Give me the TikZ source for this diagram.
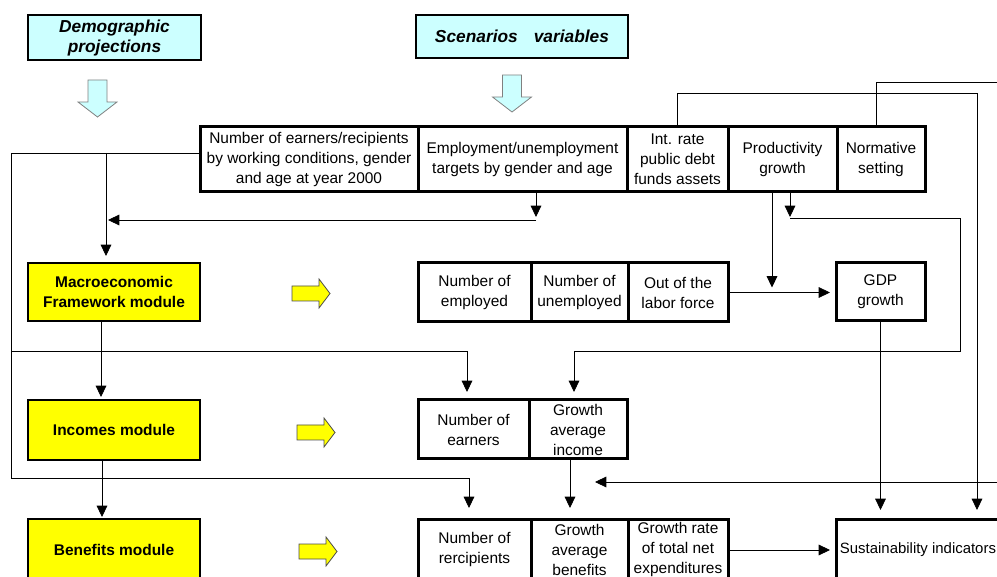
\documentclass[tikz,border=0pt]{standalone}
\usepackage{fontspec}
\setmainfont{Liberation Sans}
\usetikzlibrary{arrows.meta, positioning, calc}
\definecolor{proj-cyan}{RGB}{204,255,255}
\definecolor{module-yellow}{RGB}{255,255,0}

\begin{document}
\begin{tikzpicture}[
    x=0.75pt, y=-0.75pt,
    header/.style={rectangle, draw=black, line width=1.2pt, fill=proj-cyan, minimum height=32.25pt, align=center, font=\fontsize{13}{15}\selectfont\bfseries\itshape, anchor=north west, outer sep=0pt},
    module/.style={rectangle, draw=black, line width=1.2pt, fill=module-yellow, minimum width=129pt, align=center, font=\fontsize{11.6}{15}\selectfont\bfseries, anchor=north west, outer sep=0pt},
    cell/.style={rectangle, draw=black, line width=2.25pt, inner sep=1pt, outer sep=0pt, align=center, font=\fontsize{11.6}{15}\selectfont},
    toprow/.style={cell, minimum height=48.75pt},
    midrow/.style={cell, minimum height=44.25pt},
    botrow/.style={cell, minimum height=46.5pt},
    link/.style={draw=black, line width=0.6pt},
    arrow/.style={link, -{Triangle[length=8.5pt, width=8pt]}},
    downhollow/.pic={\draw[draw=gray, fill=proj-cyan, line width=0.6pt] (-9.5,0) -- (9.5,0) -- (9.5,22) -- (19.5,22) -- (0,37) -- (-19.5,22) -- (-9.5,22) -- cycle;},
    rightsolid/.pic={\draw[draw=black!70, fill=module-yellow, line width=0.6pt] (0,-7.5) -- (27,-7.5) -- (27,-14.5) -- (38,0) -- (27,14.5) -- (27,7.5) -- (0,7.5) -- cycle;}
]
\useasboundingbox (0,0) rectangle (997,577);
\clip (0,0) rectangle (997,577);

% Inputs
\node[header, minimum width=129.75pt] (demo) at (28,15) {Demographic\\projections};
\node[header, minimum width=159pt] (scen) at (416,15) {Scenarios\hspace{12pt}variables};
\pic at (97.5,80) {downhollow};
\pic at (512,75) {downhollow};

% Top row
\node[toprow, minimum width=163.5pt, anchor=north west] (earn) at (200,127) {Number of earners/recipients\\by working conditions, gender\\and age at year 2000};
\node[toprow, minimum width=156.75pt, right=0pt of earn] (emp) {Employment/unemployment\\targets by gender and age};
\node[toprow, minimum width=75.75pt, right=0pt of emp] (intr) {Int. rate\\public debt\\funds assets};
\node[toprow, minimum width=81.75pt, right=0pt of intr] (prod) {Productivity\\growth};
\node[toprow, minimum width=66pt, right=0pt of prod] (norm) {Normative\\setting};

% Macroeconomic module
\node[module, minimum height=43.5pt] (macro) at (28,263) {Macroeconomic\\Framework module};
\pic at (292,293.5) {rightsolid};
\node[midrow, minimum width=84.75pt, anchor=north west] (nemp) at (418,263) {Number of\\employed};
\node[midrow, minimum width=72.75pt, right=0pt of nemp] (nunemp) {Number of\\unemployed};
\node[midrow, minimum width=75pt, right=0pt of nunemp] (outlf) {Out of the\\labor force};
\node[midrow, minimum width=66.75pt, minimum height=43.5pt, anchor=north west] (gdp) at (836,263) {GDP\\growth};

% Incomes module
\node[module, minimum height=45pt] (incomes) at (28,400) {Incomes module};
\pic at (297,432.5) {rightsolid};
\node[midrow, minimum width=83.25pt, anchor=north west] (nearn) at (418,400) {Number of\\earners};
\node[midrow, minimum width=73.5pt, right=0pt of nearn] (gavinc) {Growth\\average\\income};

% Benefits module
\node[module, minimum height=46.5pt] (benefits) at (28,519) {Benefits module};
\pic at (299,551.5) {rightsolid};
\node[botrow, minimum width=84.75pt, anchor=north west] (nrec) at (418,519) {Number of\\rercipients};
\node[botrow, minimum width=72.75pt, right=0pt of nrec] (gavben) {Growth\\average\\benefits};
\node[botrow, minimum width=75pt, right=0pt of gavben] (grate) {Growth rate\\of total net\\expenditures};
\node[botrow, minimum width=123pt, font=\fontsize{11.2}{15}\selectfont, anchor=north west] (sust) at (836,519) {Sustainability indicators};

% Starting figures
\coordinate (spine) at (11,153);
\coordinate (mtap) at (106,153);
\coordinate (businc) at (11,351);
\coordinate (busben) at (11,478);
\draw[arrow] (spine -| earn.west) -- (spine) -- (busben) -| ($(nrec.north)+(-5.5,-11)$);
\draw[arrow] (businc) -| ($(nearn.north)+(-6.5,-8)$);
\draw[arrow] (mtap) -- ($(macro.north -| mtap)+(0,-7)$);

% Employment targets
\coordinate (empbus) at (536,220);
\draw[arrow] (emp.south -| empbus) -- ($(empbus)+(0,-3)$);
\draw[arrow] (empbus) -- ($(empbus -| mtap)+(2,0)$);

% Productivity
\coordinate (prodbus) at (960,218);
\draw[arrow] ($(prod.south)+(-10.5,0)$) -- ($(outlf.east -| prod.south)+(-10.5,-5)$);
\draw[arrow] (outlf.east) -- ($(outlf.east -| gdp.west)+(-6,0)$);
\draw[arrow] ($(prod.south)+(7.5,0)$) -- ($(prodbus -| prod.south)+(7.5,-1)$);
\draw[arrow] ($(prodbus -| prod.south)+(7.5,0)$) -- (prodbus) -- (prodbus |- businc) -| ($(gavinc.north)+(-4,-8)$);

% Other inputs
\coordinate (topint) at (977,93);
\coordinate (topnorm) at (1000,82);
\coordinate (backflow) at (1000,482);
\draw[arrow] (intr.north) |- (topint) -- ($(sust.north -| topint)+(0,-9)$);
\draw[link] ($(norm.north)+(-5,0)$) |- (topnorm);
\draw[arrow] (gdp.south) -- ($(sust.north -| gdp.south)+(0,-9)$);
\draw[arrow] (backflow) -- ($(backflow -| gavben.east)+(-33,0)$);

% Module chain
\coordinate (gtap) at ($(gavinc.south)+(-8,0)$);
\draw[arrow] ($(macro.south)+(-13,0)$) -- ($(incomes.north)+(-13,-3)$);
\draw[arrow] ($(incomes.south)+(-12,0)$) -- ($(benefits.north)+(-12,-2)$);
\draw[arrow] (gtap) -- ($(gavben.north -| gtap)+(0,-11)$);
\draw[arrow] (grate.east) -- ($(sust.west)+(-6,0)$);

\end{tikzpicture}
\end{document}
